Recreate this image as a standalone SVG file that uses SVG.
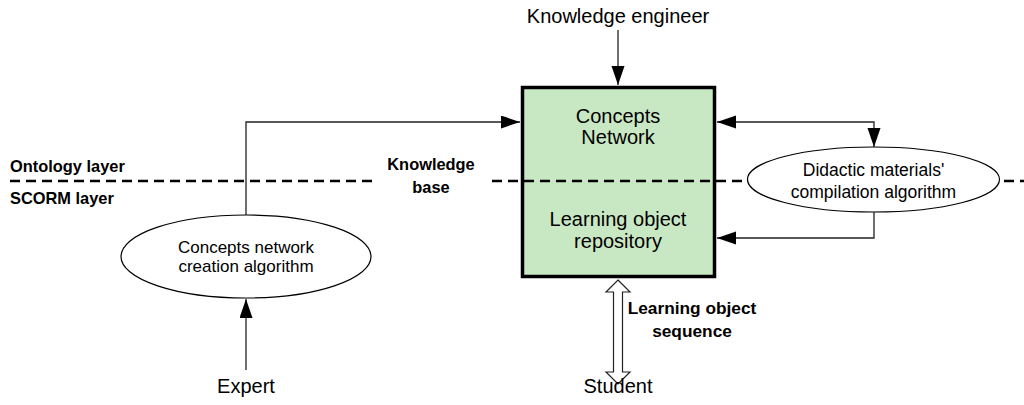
<svg xmlns="http://www.w3.org/2000/svg" width="1024" height="405" viewBox="0 0 1024 405">
<style>
.t{font-family:"Liberation Sans",Arial,sans-serif;fill:#000;text-anchor:middle}
.b{font-family:"Liberation Sans",Arial,sans-serif;font-weight:bold;fill:#000}
.ln{fill:none;stroke:#222;stroke-width:1.3}
</style>
<defs>
<marker id="ah" markerUnits="userSpaceOnUse" markerWidth="20" markerHeight="14" refX="19" refY="6.5" orient="auto-start-reverse">
<path d="M0,0 L19,6.5 L0,13 z" fill="#000"/>
</marker>
</defs>
<g id="box">
<rect x="522.5" y="87.5" width="192" height="189" fill="#c8e8c4" stroke="#000" stroke-width="3.5"/>
<text class="t" x="618" y="123" font-size="20">Concepts</text>
<text class="t" x="618" y="144" font-size="20">Network</text>
<text class="t" x="618" y="226" font-size="20">Learning object</text>
<text class="t" x="618" y="248" font-size="20">repository</text>
</g>
<g id="layers">
<line x1="10" y1="181" x2="373" y2="181" stroke="#000" stroke-width="2.6" stroke-dasharray="10 6"/>
<line x1="492" y1="181" x2="1024" y2="181" stroke="#000" stroke-width="2.6" stroke-dasharray="10 6"/>
<text class="b" x="10" y="172" font-size="16.4">Ontology layer</text>
<text class="b" x="10" y="204" font-size="16.4">SCORM layer</text>
<text class="b" x="431" y="170" font-size="16.4" text-anchor="middle">Knowledge</text>
<text class="b" x="431" y="193" font-size="16.4" text-anchor="middle">base</text>
</g>
<g id="connectors">
<line class="ln" x1="618" y1="30" x2="618" y2="85" marker-end="url(#ah)"/>
<polyline class="ln" points="246,215 246,122 520,122" marker-end="url(#ah)"/>
<line class="ln" x1="246" y1="370" x2="246" y2="299" marker-end="url(#ah)"/>
<polyline class="ln" points="717,122 874,122 874,147" marker-start="url(#ah)" marker-end="url(#ah)"/>
<polyline class="ln" points="874,212 874,238 717,238" marker-end="url(#ah)"/>
<polygon points="618,280 630,292 622.5,292 622.5,372 630,372 618,384 606,372 613.5,372 613.5,292 606,292" fill="#fff" stroke="#222" stroke-width="1.2"/>
<text class="b" x="692" y="314" font-size="17.3" text-anchor="middle">Learning object</text>
<text class="b" x="692" y="337" font-size="17.3" text-anchor="middle">sequence</text>
</g>
<g id="concepts-alg">
<ellipse cx="246" cy="256.5" rx="125" ry="41.5" fill="#fff" stroke="#000" stroke-width="1.2"/>
<text class="t" x="246" y="253" font-size="17">Concepts network</text>
<text class="t" x="246" y="272" font-size="17">creation algorithm</text>
</g>
<g id="didactic-alg">
<ellipse cx="873.5" cy="179.5" rx="126" ry="32.5" fill="#fff" stroke="#000" stroke-width="1.2"/>
<text class="t" x="873.5" y="176" font-size="17.5">Didactic materials'</text>
<text class="t" x="873.5" y="198" font-size="17.5">compilation algorithm</text>
</g>
<g id="knowledge-engineer"><text class="t" x="618" y="23" font-size="20">Knowledge engineer</text></g>
<g id="expert"><text class="t" x="246" y="393" font-size="20">Expert</text></g>
<g id="student"><text class="t" x="618" y="393" font-size="20">Student</text></g>
</svg>
